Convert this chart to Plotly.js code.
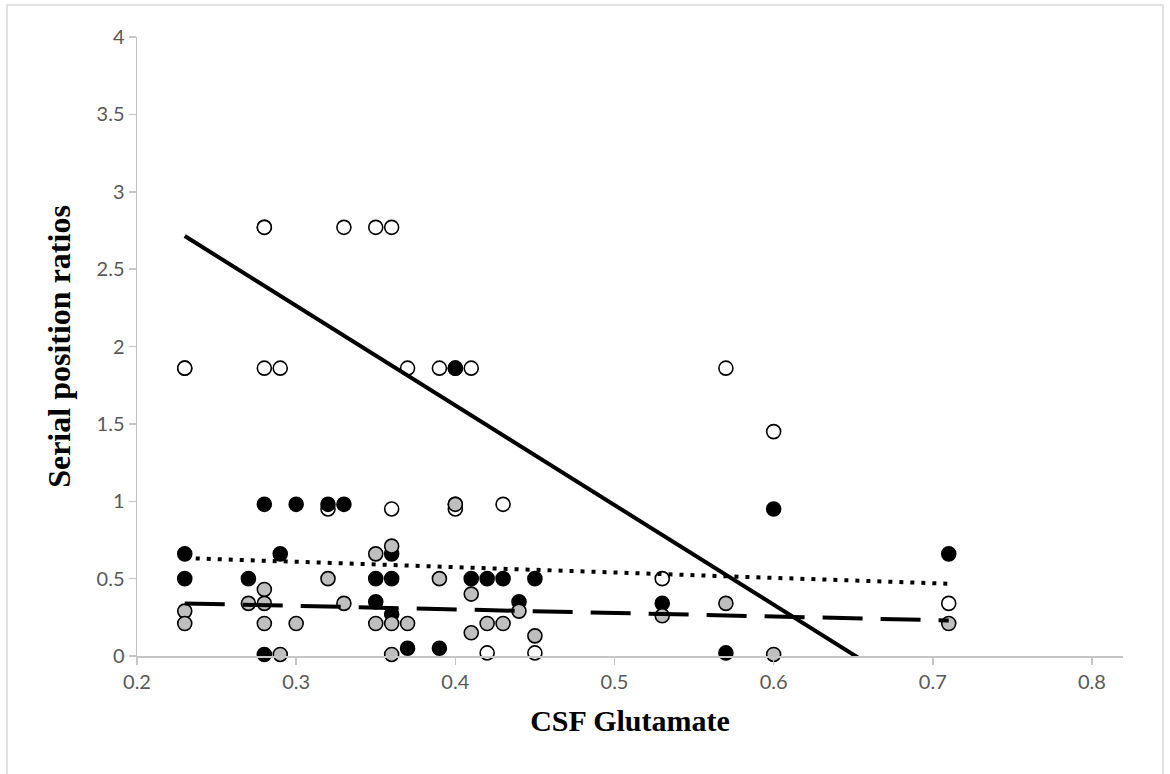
<!DOCTYPE html>
<html>
<head>
<meta charset="utf-8">
<script src="https://cdn.plot.ly/plotly-3.0.1.min.js"></script>
<style>
  html, body { margin: 0; padding: 0; background: #ffffff; }
  #chart { width: 1170px; height: 774px; }
</style>
</head>
<body>
<div id="chart"></div>
<script>
// Open circles
const openX = [0.28, 0.28, 0.33, 0.35, 0.36, 0.23, 0.23, 0.28, 0.29, 0.37, 0.39, 0.40, 0.41, 0.57, 0.60, 0.32, 0.36, 0.40, 0.40, 0.43, 0.53, 0.71, 0.42, 0.45];
const openY = [2.77, 2.77, 2.77, 2.77, 2.77, 1.86, 1.86, 1.86, 1.86, 1.86, 1.86, 1.86, 1.86, 1.86, 1.45, 0.95, 0.95, 0.98, 0.95, 0.98, 0.50, 0.34, 0.02, 0.02];

// Black filled circles
const blackX = [0.28, 0.30, 0.32, 0.33, 0.40, 0.60, 0.23, 0.29, 0.36, 0.71, 0.23, 0.27, 0.35, 0.36, 0.41, 0.42, 0.43, 0.45, 0.35, 0.36, 0.44, 0.53, 0.28, 0.37, 0.39, 0.57];
const blackY = [0.98, 0.98, 0.98, 0.98, 1.86, 0.95, 0.66, 0.66, 0.66, 0.66, 0.50, 0.50, 0.50, 0.50, 0.50, 0.50, 0.50, 0.50, 0.35, 0.27, 0.35, 0.34, 0.01, 0.05, 0.05, 0.02];

// Gray filled circles
const grayX = [0.23, 0.23, 0.27, 0.28, 0.28, 0.28, 0.29, 0.30, 0.32, 0.33, 0.35, 0.35, 0.36, 0.36, 0.36, 0.37, 0.39, 0.40, 0.41, 0.41, 0.42, 0.43, 0.44, 0.45, 0.53, 0.57, 0.60, 0.71];
const grayY = [0.29, 0.21, 0.34, 0.43, 0.34, 0.21, 0.01, 0.21, 0.50, 0.34, 0.66, 0.21, 0.71, 0.21, 0.01, 0.21, 0.50, 0.98, 0.40, 0.15, 0.21, 0.21, 0.29, 0.13, 0.26, 0.34, 0.01, 0.21];

// Linear trend lines (end points)
const trendX = [0.23, 0.71];
const openTrendY = [2.714, -0.377];
const blackTrendY = [0.633, 0.467];
const grayTrendY = [0.34, 0.23];

const mk = (fill) => ({ symbol: 'circle', size: 14, color: fill, line: { color: '#000000', width: 1.6 } });

const traces = [
  { type: 'scatter', mode: 'markers', x: openX, y: openY, marker: mk('#ffffff'), cliponaxis: false, showlegend: false },
  { type: 'scatter', mode: 'lines', x: trendX, y: openTrendY, line: { color: '#000000', width: 4 }, showlegend: false },
  { type: 'scatter', mode: 'markers', x: blackX, y: blackY, marker: mk('#000000'), cliponaxis: false, showlegend: false },
  { type: 'scatter', mode: 'lines', x: trendX, y: blackTrendY, line: { color: '#000000', width: 4, dash: '4px,7px' }, showlegend: false },
  { type: 'scatter', mode: 'markers', x: grayX, y: grayY, marker: mk('#bfbfbf'), cliponaxis: false, showlegend: false },
  { type: 'scatter', mode: 'lines', x: trendX, y: grayTrendY, line: { color: '#000000', width: 4, dash: '40px,18px' }, showlegend: false }
];

const tickFont = { family: 'Lato, "Open Sans", sans-serif', size: 20, color: '#595959' };
const xTitleFont = { family: '"Liberation Serif", "Times New Roman", serif', size: 30, color: '#000000', weight: 'bold' };
const yTitleFont = { family: '"Liberation Serif", "Times New Roman", serif', size: 32, color: '#000000', weight: 'bold' };

const layout = {
  width: 1170,
  height: 774,
  margin: { l: 137, r: 47, t: 37, b: 118 },
  paper_bgcolor: '#ffffff',
  plot_bgcolor: '#ffffff',
  showlegend: false,
  xaxis: {
    range: [0.2, 0.8195],
    tick0: 0.2, dtick: 0.1,
    showgrid: false, zeroline: false,
    showline: true, linecolor: '#c6c6c6', linewidth: 1.5,
    ticks: 'outside', ticklen: 7, tickcolor: '#c6c6c6', tickwidth: 1.5,
    tickfont: tickFont,
    title: { text: '<b>CSF Glutamate</b>', font: xTitleFont, standoff: 18 }
  },
  yaxis: {
    range: [0, 4],
    tick0: 0, dtick: 0.5,
    showgrid: false, zeroline: false,
    showline: true, linecolor: '#c6c6c6', linewidth: 1.5,
    ticks: 'outside', ticklen: 7, tickcolor: '#c6c6c6', tickwidth: 1.5,
    tickfont: tickFont,
    title: { text: '<b>Serial position ratios</b>', font: yTitleFont, standoff: 16 }
  },
  shapes: [
    { type: 'rect', xref: 'paper', yref: 'paper', x0: -0.1318, x1: 1.0406, y0: -0.21, y1: 1.0517,
      line: { color: '#d9d9d9', width: 1.5 }, fillcolor: 'rgba(0,0,0,0)', layer: 'below' }
  ]
};

Plotly.newPlot('chart', traces, layout, { displayModeBar: false, staticPlot: true });
</script>
</body>
</html>
